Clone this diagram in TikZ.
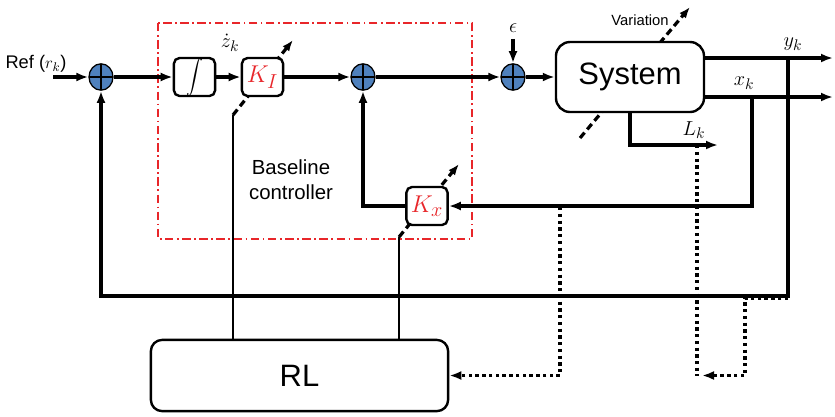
\documentclass[tikz,border=0pt]{standalone}
\usepackage{amsmath}
\usepackage{fontspec}
\setmainfont{Liberation Sans}
\usepackage{tikz}
\usetikzlibrary{positioning, arrows.meta, shapes.geometric}
\usepackage{xcolor}
\definecolor{sumblue}{RGB}{79,129,189}
\definecolor{ctrlred}{RGB}{232,38,42}

\begin{document}
\begin{tikzpicture}[
        x=0.025cm,
        y=-0.025cm,
        line width=2.5pt,
        sumnode/.style={
            ellipse,
            draw,
            line width=0.9pt,
            fill=sumblue,
            minimum width=0.6cm,
            minimum height=0.66cm,
            inner sep=0pt,
            path picture={
                \draw[line width=0.9pt] (path picture bounding box.north) -- (path picture bounding box.south)
                    (path picture bounding box.west) -- (path picture bounding box.east);
            }
        },
        gainbox/.style={
            rectangle,
            draw,
            line width=1.7pt,
            rounded corners=4pt,
            fill=white,
            minimum width=1.03cm,
            minimum height=0.95cm,
            inner sep=0pt,
            text=ctrlred,
            font=\fontsize{19}{22}\selectfont
        },
        plantbox/.style={
            rectangle,
            draw,
            line width=1.7pt,
            rounded corners=10pt,
            fill=white,
            inner sep=0pt,
            font=\fontsize{22}{26}\selectfont
        },
        arrow/.style={
            -{Latex[length=3mm]}
        },
        tune/.style={
            -{Latex[length=2.8mm]},
            line width=2.3pt,
            dash pattern=on 5pt off 3pt
        },
        dotline/.style={
            line width=2.4pt,
            dash pattern=on 2.4pt off 2.4pt
        },
        sig/.style={
            font=\fontsize{15}{18}\selectfont
        }
    ]

        \useasboundingbox (0,0) rectangle (835,416);

        \draw[ctrlred, line width=1.4pt, dash pattern=on 6pt off 2.5pt on 1.2pt off 2.5pt] (158,23) rectangle (472,239);

        \coordinate (kitail) at (233,115);
        \coordinate (kihead) at (293,40);
        \coordinate (kxtail) at (399,237);
        \coordinate (kxhead) at (459,164);
        \coordinate (vartail) at (580,138);
        \coordinate (varhead) at (690,7);

        \draw[tune] (kitail) -- (kihead);
        \draw[tune] (kxtail) -- (kxhead);
        \draw[tune] (vartail) -- (varhead);

        \node[sumnode] (sum1) at (101,77) {};
        \node[gainbox, text=black, font=\fontsize{12}{14}\selectfont] (integ) at (194.5,77) {$\displaystyle\int$};
        \node[gainbox] (KI) at (262.5,77) {$K_I$};
        \node[sumnode] (sum2) at (363,77) {};
        \node[sumnode] (sum3) at (513,77) {};
        \node[plantbox, minimum width=3.7cm, minimum height=1.75cm] (sys) at (630,77) {System};
        \node[gainbox] (Kx) at (427,206) {$K_x$};
        \node[plantbox, rounded corners=8pt, minimum width=7.43cm, minimum height=1.78cm] (RL) at (299.5,375.5) {RL};

        \node[font=\fontsize{13}{15}\selectfont] (ref) at (36,64) {Ref ($r_k$)};
        \node[sig, inner sep=1pt] (zdot) at (230,43) {$\dot z_k$};
        \node[sig] (eps) at (513,28) {$\epsilon$};
        \node[font=\fontsize{10.5}{12}\selectfont] (var) at (640,20) {Variation};
        \node[sig] (yk) at (793,44) {$y_k$};
        \node[sig] (xk) at (744,83) {$x_k$};
        \node[sig] (lk) at (694,130) {$L_k$};
        \node[font=\fontsize{14.5}{18}\selectfont, align=center] (base) at (291,180) {Baseline\\controller};

        \coordinate (refin) at (53,77);
        \coordinate (yend) at (833,58);
        \coordinate (xend) at (833,97);
        \coordinate (ytap) at (788,58);
        \coordinate (xtap) at (752,97);
        \coordinate (fbcorner) at (788,296);
        \coordinate (lkend) at (718,145);

        \draw[arrow] (refin) -- (sum1);
        \draw[arrow] (sum1) -- (integ);
        \draw[arrow] (integ) -- (KI);
        \draw[arrow] (KI) -- (sum2);
        \draw[arrow] (sum2) -- (sum3);
        \draw[arrow] (eps) -- (sum3);
        \draw[arrow] (sum3) -- (sys);
        \draw[arrow] (sys.east |- yend) -- (yend);
        \draw[arrow] (sys.east |- xend) -- (xend);
        \draw[arrow] (ytap) -- (fbcorner) -| (sum1.south);
        \draw[arrow] (xtap) |- (Kx.east);
        \draw[arrow] (Kx.west) -| (sum2.south);
        \draw[arrow] (sys.south) |- (lkend);

        \draw[line width=1.8pt] (RL.north -| kitail) -- (kitail);
        \draw[line width=1.8pt] (RL.north -| kxtail) -- (kxtail);

        \coordinate (xkdot) at (560,207);
        \coordinate (lkdot) at (697,145);
        \coordinate (fbdrop) at (745,298);
        \coordinate (lkjoin) at (702,375.5);

        \draw[dotline, arrow] (xkdot) |- (RL.east);
        \draw[dotline] (lkdot) -- (lkdot |- RL.east);
        \draw[dotline, arrow] (fbcorner |- fbdrop) -- (fbdrop) |- (lkjoin);

    \end{tikzpicture}
\end{document}
